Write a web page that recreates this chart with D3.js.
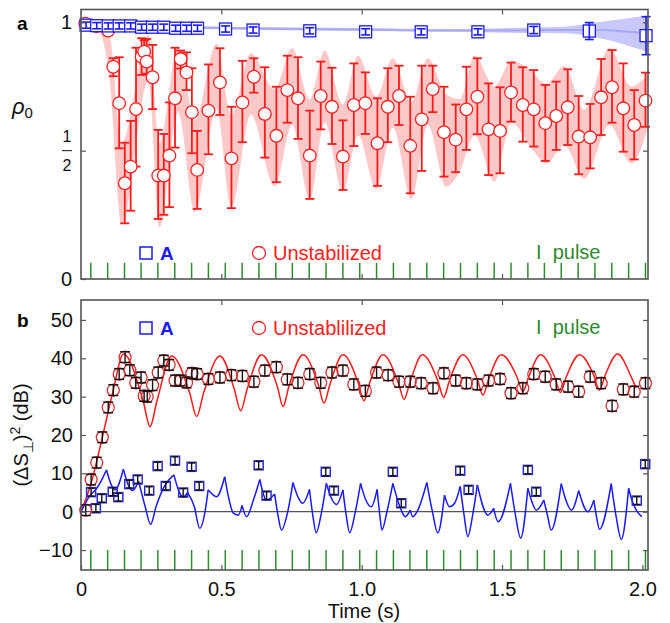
<!DOCTYPE html>
<html>
<head>
<meta charset="utf-8">
<script src="https://cdn.jsdelivr.net/npm/d3@7"></script>
<style>
  body { margin: 0; background: #fff; }
  text { font-family: "Liberation Sans", Arial, sans-serif; }
</style>
</head>
<body>
<div id="chart"></div>
<script>
// ---- panel a : rho_0 ----
const aRedT = [0.015,0.055,0.097,0.115,0.136,0.156,0.177,0.196,0.216,0.225,0.234,0.255,0.275,0.295,0.315,0.335,0.355,0.376,0.395,0.414,0.454,0.495,0.536,0.575,0.616,0.655,0.696,0.735,0.773,0.815,0.854,0.894,0.933,0.972,1.013,1.056,1.093,1.133,1.173,1.214,1.253,1.293,1.335,1.373,1.412,1.452,1.493,1.532,1.574,1.613,1.654,1.693,1.734,1.773,1.814,1.853,1.892,1.932,1.971,2.011];
const aRedV = [0.995,0.985,0.968,0.827,0.685,0.373,0.438,0.662,0.866,0.886,0.847,0.786,0.403,0.403,0.481,0.704,0.857,0.805,0.650,0.425,0.656,0.766,0.470,0.688,0.788,0.643,0.558,0.736,0.704,0.481,0.713,0.671,0.477,0.678,0.685,0.529,0.671,0.713,0.519,0.622,0.740,0.572,0.543,0.661,0.710,0.583,0.577,0.727,0.678,0.661,0.607,0.635,0.669,0.555,0.552,0.708,0.747,0.665,0.600,0.695];
const aRedHi = [1.0,0.995,0.985,0.86,0.864,0.531,0.616,0.901,0.938,0.93,0.935,0.912,0.581,0.565,0.688,0.901,0.89,0.883,0.821,0.577,0.836,0.899,0.671,0.85,0.86,0.825,0.749,0.87,0.864,0.656,0.847,0.823,0.618,0.84,0.805,0.704,0.821,0.831,0.71,0.831,0.831,0.749,0.68,0.827,0.86,0.762,0.747,0.843,0.825,0.814,0.756,0.769,0.817,0.713,0.682,0.857,0.892,0.84,0.736,0.804];
const aRedLo = [0.99,0.975,0.95,0.79,0.509,0.217,0.266,0.438,0.795,0.84,0.80,0.662,0.234,0.25,0.28,0.512,0.82,0.736,0.49,0.273,0.486,0.639,0.276,0.533,0.726,0.473,0.377,0.609,0.546,0.312,0.583,0.526,0.347,0.518,0.565,0.363,0.533,0.6,0.334,0.421,0.65,0.399,0.416,0.503,0.564,0.405,0.412,0.613,0.535,0.516,0.46,0.503,0.522,0.408,0.431,0.561,0.609,0.496,0.466,0.593];

const aRedBandT  = [0.0,0.06,0.10,0.145,0.24,0.28,0.346,0.406,0.483,0.536,0.605,0.69,0.752,0.815,0.868,0.933,0.987,1.052,1.111,1.177,1.236,1.301,1.35,1.402,1.473,1.533,1.604,1.657,1.722,1.793,1.883,1.96,2.02];
const aRedBandLo = [0.995,0.97,0.80,0.21,0.77,0.20,0.65,0.26,0.66,0.28,0.64,0.36,0.60,0.31,0.61,0.34,0.56,0.35,0.59,0.31,0.60,0.36,0.42,0.56,0.38,0.61,0.51,0.45,0.52,0.39,0.60,0.45,0.59];
const aRedBandHi = [1.005,0.995,0.96,0.53,0.95,0.53,0.905,0.62,0.918,0.64,0.88,0.74,0.90,0.70,0.89,0.68,0.87,0.71,0.86,0.69,0.86,0.72,0.70,0.87,0.75,0.85,0.81,0.76,0.83,0.66,0.90,0.75,0.80];

const aBlueT   = [0.018,0.056,0.097,0.136,0.177,0.216,0.255,0.295,0.337,0.376,0.415,0.515,0.613,0.815,1.014,1.212,1.414,1.613,1.811,2.013];
const aBlueV   = [0.989,0.987,0.986,0.986,0.986,0.981,0.981,0.981,0.977,0.977,0.977,0.974,0.970,0.967,0.963,0.963,0.963,0.970,0.966,0.948];
const aBlueErr = [0.012,0.012,0.012,0.012,0.012,0.012,0.012,0.012,0.012,0.012,0.012,0.012,0.012,0.012,0.012,0.012,0.012,0.014,0.033,0.074];

const aBlueBandT  = [0.0,0.4,1.0,1.33,1.6,1.72,1.84,2.02];
const aBlueBandLo = [0.995,0.975,0.966,0.963,0.958,0.957,0.94,0.884];
const aBlueBandHi = [1.002,0.985,0.978,0.974,0.98,0.983,1.0,1.028];
const aBlueFitV   = [0.999,0.98,0.972,0.968,0.969,0.97,0.97,0.956];

// ---- panel b : squeezing (dB) ----
const bRedT = [0.017,0.036,0.056,0.076,0.097,0.115,0.136,0.157,0.174,0.195,0.214,0.225,0.236,0.255,0.275,0.295,0.314,0.335,0.355,0.376,0.395,0.414,0.454,0.495,0.536,0.575,0.616,0.655,0.696,0.735,0.773,0.815,0.854,0.894,0.933,0.972,1.013,1.053,1.094,1.133,1.173,1.212,1.254,1.293,1.335,1.373,1.412,1.452,1.493,1.532,1.574,1.613,1.654,1.693,1.735,1.773,1.814,1.853,1.892,1.932,1.971,2.011];
const bRedV = [0.4,8.4,12.8,19.4,27.2,31.7,35.9,40.3,36.9,33.6,35.0,30.2,30.0,33.0,36.3,39.4,38.3,34.2,34.2,33.7,36.1,35.9,34.6,35.0,35.6,35.4,33.9,36.8,37.7,34.5,33.6,35.9,33.6,36.3,36.8,33.2,31.5,36.3,35.6,33.9,33.9,33.5,32.2,36.1,34.2,33.5,33.2,34.2,34.6,30.9,32.2,35.9,35.2,33.2,32.6,31.3,35.2,33.5,27.6,31.9,31.3,33.5];
const bRedErr = 1.4;

const bBlueT = [0.036,0.053,0.074,0.113,0.133,0.172,0.202,0.243,0.273,0.302,0.335,0.364,0.394,0.421,0.633,0.661,0.872,0.901,1.111,1.141,1.351,1.381,1.592,1.622,1.98,2.01];
const bBlueV = [5.1,0.9,3.5,5.2,3.8,7.2,8.4,5.5,11.9,6.7,13.3,5.0,11.7,6.7,12.1,4.2,10.4,5.5,10.4,2.2,10.7,5.7,10.9,5.2,2.9,12.4];
const bBlueErr = 1.0;

const bRedFitT = [0,0.036,0.076,0.115,0.151,0.221,0.246,0.271,0.323,0.387,0.412,0.437,0.495,0.546,0.569,0.592,0.643,0.70,0.72,0.74,0.791,0.846,0.866,0.886,0.933,0.988,1.008,1.028,1.076,1.131,1.151,1.171,1.216,1.272,1.292,1.312,1.36,1.412,1.432,1.452,1.497,1.554,1.574,1.594,1.637,1.688,1.708,1.728,1.776,1.827,1.847,1.867,1.912,1.958,1.978];
const bRedFitV = [0,7.4,19.4,31.7,41.1,29,22.2,29,40.6,31,24.8,31,40.6,32,26.3,32,40.9,32.5,27.4,32.5,40.9,33,28.3,33,40.9,33.5,28.9,33.5,40.9,33.5,29.3,33.5,40.9,34,29.8,34,40.9,34.5,30.4,34.5,40.9,35,31.3,35,40.9,35,31.1,35,40.9,35.5,31.7,35.5,41.1,35.5,32.2];

const bBlueFitT = [0,0.03,0.06,0.091,0.108,0.121,0.151,0.168,0.184,0.205,0.228,0.248,0.268,0.3,0.331,0.348,0.364,0.38,0.403,0.423,0.443,0.453,0.483,0.512,0.528,0.542,0.56,0.574,0.59,0.614,0.637,0.65,0.661,0.69,0.702,0.714,0.735,0.755,0.772,0.79,0.814,0.826,0.838,0.856,0.874,0.892,0.91,0.933,0.945,0.957,0.976,0.996,1.015,1.034,1.055,1.064,1.072,1.09,1.111,1.141,1.155,1.173,1.182,1.2,1.232,1.252,1.271,1.295,1.313,1.331,1.351,1.365,1.378,1.395,1.412,1.45,1.47,1.486,1.53,1.548,1.566,1.592,1.607,1.622,1.649,1.662,1.675,1.711,1.73,1.747,1.773,1.806,1.827,1.837,1.847,1.889,1.907,1.925,1.951,1.965,1.978,1.998];
const bBlueFitV = [0,4,6.5,10.9,7,5.7,11.1,7,5.5,8,1.5,-3.3,1.5,7,9.6,5.5,3.8,5,1.5,-4.3,0.5,5.7,3.9,9.1,3,-0.3,-0.9,1.6,-1.3,3,8.4,4.5,3.0,4.6,-1,-4.8,-0.5,7.6,4,2.2,5.8,-1,-5.5,-0.5,7.4,3.5,1.9,5.7,-1,-5.5,-0.5,7.4,3,1.3,5.8,-0.5,-4.8,0,7.4,0.4,-1.3,0.4,-1.3,0.4,7.6,0,-5.5,4.3,1.3,2.2,6.6,-1,-6.5,-1,7.0,-0.9,0.9,-2.6,7.4,-1,-6.9,6.1,2.5,0.4,3.0,-1,-4.8,7.3,2.5,0.4,5.5,0,3.0,-1.5,-4.6,7.3,-1.5,-7.2,6.1,2.5,0.4,-1.3];

// pulse times (green marks)
const pulseT = [0.035,0.095,0.155,0.214,0.274,0.334,0.394,0.454,0.514,0.574,0.634,0.694,0.753,0.813,0.873,0.933,0.993,1.053,1.113,1.172,1.232,1.292,1.352,1.412,1.472,1.532,1.592,1.651,1.711,1.771,1.831,1.891,1.951,2.011];

const xTicks = [0, 0.5, 1.0, 1.5, 2.0];
const bTicks = [-10, 0, 10, 20, 30, 40, 50];

// ---- layout ----
const width = 670, height = 623;
const left = 81, right = 648;
const aTop = 9.5, aBot = 279, bTop = 300, bBot = 570;
const frameCol = "#555", green = "#2e8b2e";

const svg = d3.select("#chart").append("svg")
  .attr("width", width).attr("height", height);

const x = d3.scaleLinear().domain([0, 2.02]).range([left, right]);
const ya = d3.scaleLinear().domain([0, 1.05]).range([aBot, aTop]);
const yb = d3.scaleLinear().domain([-15.2, 55.2]).range([bBot, bTop]);

function styleAxis(g) {
  g.select(".domain").remove();
  g.selectAll(".tick line").attr("stroke", frameCol).attr("stroke-width", 1.2);
  g.selectAll(".tick text").attr("font-size", 20).attr("fill", "#111")
    .style("font-family", '"Liberation Sans", Arial, sans-serif');
}

// ================= panel a =================
const ga = svg.append("g");

// pink band
ga.append("path")
  .datum(aRedBandT.map((t, i) => [t, aRedBandLo[i], aRedBandHi[i]]))
  .attr("fill", "#fdc8c8")
  .attr("d", d3.area().x(d => x(d[0])).y0(d => ya(d[1])).y1(d => ya(d[2])).curve(d3.curveMonotoneX));

// blue band
ga.append("path")
  .datum(aBlueBandT.map((t, i) => [t, aBlueBandLo[i], aBlueBandHi[i]]))
  .attr("fill", "#c8c8fa")
  .attr("d", d3.area().x(d => x(d[0])).y0(d => ya(d[1])).y1(d => ya(d[2])).curve(d3.curveMonotoneX));
ga.append("path")
  .datum(aBlueBandT.map((t, i) => [t, aBlueFitV[i]]))
  .attr("fill", "none").attr("stroke", "#a8a8f4").attr("stroke-width", 2)
  .attr("d", d3.line().x(d => x(d[0])).y(d => ya(d[1])).curve(d3.curveMonotoneX));

// red error bars + circles
const aRed = aRedT.map((t, i) => ({t, v: aRedV[i], lo: aRedLo[i], hi: aRedHi[i]}));
const ebA = ga.append("g").attr("stroke", "#ff1a1a").attr("stroke-width", 1.8);
aRed.forEach(d => {
  const cx = x(d.t);
  ebA.append("line").attr("x1", cx).attr("x2", cx).attr("y1", ya(d.lo)).attr("y2", ya(d.hi));
  ebA.append("line").attr("x1", cx - 4.5).attr("x2", cx + 4.5).attr("y1", ya(d.lo)).attr("y2", ya(d.lo));
  ebA.append("line").attr("x1", cx - 4.5).attr("x2", cx + 4.5).attr("y1", ya(d.hi)).attr("y2", ya(d.hi));
});
ga.selectAll("circle.ra").data(aRed).enter().append("circle")
  .attr("cx", d => x(d.t)).attr("cy", d => ya(d.v)).attr("r", 6.3)
  .attr("fill", "#fff").attr("stroke", "#ff2020").attr("stroke-width", 1.3);

// blue squares with error bars
const aBlue = aBlueT.map((t, i) => ({t, v: aBlueV[i], e: aBlueErr[i]}));
ga.selectAll("rect.ba").data(aBlue).enter().append("rect")
  .attr("x", d => x(d.t) - 6).attr("y", d => ya(d.v) - 6)
  .attr("width", 12).attr("height", 12)
  .attr("fill", "#fff").attr("stroke", "#1a1aff").attr("stroke-width", 1.3);
const ebB = ga.append("g").attr("stroke", "#1a1aff").attr("stroke-width", 1.6);
aBlue.forEach(d => {
  const cx = x(d.t);
  ebB.append("line").attr("x1", cx).attr("x2", cx).attr("y1", ya(d.v - d.e)).attr("y2", ya(d.v + d.e));
  ebB.append("line").attr("x1", cx - 4.5).attr("x2", cx + 4.5).attr("y1", ya(d.v - d.e)).attr("y2", ya(d.v - d.e));
  ebB.append("line").attr("x1", cx - 4.5).attr("x2", cx + 4.5).attr("y1", ya(d.v + d.e)).attr("y2", ya(d.v + d.e));
});

// pulses
ga.selectAll("line.pa").data(pulseT).enter().append("line")
  .attr("x1", d => x(d)).attr("x2", d => x(d))
  .attr("y1", ya(0)).attr("y2", ya(0.063))
  .attr("stroke", green).attr("stroke-width", 1.5);

// axes a
ga.append("g").attr("transform", `translate(${left},0)`)
  .call(d3.axisLeft(ya).tickValues([0, 0.5, 1]).tickSize(-5).tickPadding(9)
    .tickFormat(d => d === 0.5 ? "" : d3.format("d")(d)))
  .call(styleAxis);
ga.append("g").attr("transform", `translate(${right},0)`)
  .call(d3.axisRight(ya).tickValues([0.5, 1]).tickSize(-5).tickFormat(""))
  .call(styleAxis);
ga.append("g").attr("transform", `translate(0,${aBot})`)
  .call(d3.axisBottom(x).tickValues([0.5, 1, 1.5]).tickSize(-5).tickFormat(""))
  .call(styleAxis);
ga.append("g").attr("transform", `translate(0,${aTop})`)
  .call(d3.axisTop(x).tickValues([0.5, 1, 1.5]).tickSize(-5).tickFormat(""))
  .call(styleAxis);
// fraction 1/2
const fr = ga.append("g").attr("font-size", 16).attr("text-anchor", "middle").attr("fill", "#111");
fr.append("text").attr("x", 67).attr("y", ya(0.5) - 9).text("1");
fr.append("line").attr("x1", 62).attr("x2", 72).attr("y1", ya(0.5)).attr("y2", ya(0.5))
  .attr("stroke", "#111").attr("stroke-width", 1);
fr.append("text").attr("x", 67).attr("y", ya(0.5) + 20).text("2");

ga.append("rect").attr("x", left).attr("y", aTop).attr("width", right - left).attr("height", aBot - aTop)
  .attr("fill", "none").attr("stroke", frameCol).attr("stroke-width", 1.6);

// labels a
ga.append("text").attr("x", 17).attr("y", 30).attr("font-size", 19).attr("font-weight", "bold").text("a");
const rho = ga.append("text").attr("x", 12).attr("y", 114).attr("font-size", 22).attr("fill", "#111");
rho.append("tspan").attr("font-style", "italic").text("ρ");
rho.append("tspan").attr("font-size", 15).attr("dy", 4).text("0");

// legend a
ga.append("rect").attr("x", 140).attr("y", 247).attr("width", 12).attr("height", 12)
  .attr("fill", "none").attr("stroke", "#1a1aff").attr("stroke-width", 1.5);
ga.append("text").attr("x", 160).attr("y", 260).attr("font-size", 19).attr("font-weight", "bold")
  .attr("fill", "#1a1aff").text("A");
ga.append("circle").attr("cx", 259).attr("cy", 253).attr("r", 6.5)
  .attr("fill", "none").attr("stroke", "#ff2020").attr("stroke-width", 1.3);
ga.append("text").attr("x", 273).attr("y", 260).attr("font-size", 20).attr("fill", "#ff2020").text("Unstabilized");
ga.append("text").attr("x", 536).attr("y", 259).attr("font-size", 20).attr("fill", green)
  .style("white-space", "pre").text("I  pulse");

// ================= panel b =================
const gb = svg.append("g");

// zero line
gb.append("line").attr("x1", left).attr("x2", right).attr("y1", yb(0)).attr("y2", yb(0))
  .attr("stroke", "#555").attr("stroke-width", 1.3);

// theory curves
gb.append("path")
  .datum(bRedFitT.map((t, i) => [t, bRedFitV[i]]))
  .attr("fill", "none").attr("stroke", "#ff1a1a").attr("stroke-width", 1.5)
  .attr("d", d3.line().x(d => x(d[0])).y(d => yb(d[1])).curve(d3.curveMonotoneX));

// blue theory: smooth between peaks, pointed at each peak
const blueFit = bBlueFitT.map((t, i) => [t, bBlueFitV[i]]);
const cuts = [0];
for (let i = 1; i < blueFit.length - 1; i++) {
  if (blueFit[i][1] > blueFit[i - 1][1] && blueFit[i][1] > blueFit[i + 1][1]) cuts.push(i);
}
cuts.push(blueFit.length - 1);
const blueLine = d3.line().x(d => x(d[0])).y(d => yb(d[1])).curve(d3.curveMonotoneX);
const gBlue = gb.append("g").attr("fill", "none").attr("stroke", "#1a1aff").attr("stroke-width", 1.5);
for (let k = 0; k < cuts.length - 1; k++) {
  gBlue.append("path").attr("d", blueLine(blueFit.slice(cuts[k], cuts[k + 1] + 1)));
}

// pulses b
gb.selectAll("line.pb").data(pulseT).enter().append("line")
  .attr("x1", d => x(d)).attr("x2", d => x(d))
  .attr("y1", yb(-15.2)).attr("y2", yb(-10))
  .attr("stroke", green).attr("stroke-width", 1.5);

// blue squares
const bBlue = bBlueT.map((t, i) => ({t, v: bBlueV[i]}));
gb.selectAll("rect.bb").data(bBlue).enter().append("rect")
  .attr("x", d => x(d.t) - 4.5).attr("y", d => yb(d.v) - 4.5)
  .attr("width", 9).attr("height", 9)
  .attr("fill", "none").attr("stroke", "#2a2acc").attr("stroke-width", 1.5);
// red circles
const bRed = bRedT.map((t, i) => ({t, v: bRedV[i]}));
gb.selectAll("circle.rb").data(bRed).enter().append("circle")
  .attr("cx", d => x(d.t)).attr("cy", d => yb(d.v)).attr("r", 6)
  .attr("fill", "none").attr("stroke", "#cc3333").attr("stroke-width", 1.3);

// black error bars
const ebK = gb.append("g").attr("stroke", "#111").attr("stroke-width", 1.4);
function errBar(t, v, e, w) {
  const cx = x(t);
  ebK.append("line").attr("x1", cx).attr("x2", cx).attr("y1", yb(v - e)).attr("y2", yb(v + e));
  ebK.append("line").attr("x1", cx - w).attr("x2", cx + w).attr("y1", yb(v - e)).attr("y2", yb(v - e));
  ebK.append("line").attr("x1", cx - w).attr("x2", cx + w).attr("y1", yb(v + e)).attr("y2", yb(v + e));
}
bRed.forEach(d => errBar(d.t, d.v, bRedErr, 5));
bBlue.forEach(d => errBar(d.t, d.v, bBlueErr, 3.5));

// axes b
gb.append("g").attr("transform", `translate(${left},0)`)
  .call(d3.axisLeft(yb).tickValues(bTicks).tickSize(-5).tickPadding(8))
  .call(styleAxis);
gb.append("g").attr("transform", `translate(${right},0)`)
  .call(d3.axisRight(yb).tickValues(bTicks).tickSize(-5).tickFormat(""))
  .call(styleAxis);
gb.append("g").attr("transform", `translate(0,${bBot})`)
  .call(d3.axisBottom(x).tickValues(xTicks).tickSize(-5).tickPadding(12)
    .tickFormat(d => d === 0 ? "0" : d3.format(".1f")(d)))
  .call(styleAxis);
gb.append("g").attr("transform", `translate(0,${bTop})`)
  .call(d3.axisTop(x).tickValues([0.5, 1, 1.5]).tickSize(-5).tickFormat(""))
  .call(styleAxis);

gb.append("rect").attr("x", left).attr("y", bTop).attr("width", right - left).attr("height", bBot - bTop)
  .attr("fill", "none").attr("stroke", frameCol).attr("stroke-width", 1.6);

// labels b
gb.append("text").attr("x", 17).attr("y", 327).attr("font-size", 19).attr("font-weight", "bold").text("b");
gb.append("text").attr("x", 364).attr("y", 618).attr("font-size", 20).attr("text-anchor", "middle")
  .attr("fill", "#111").text("Time (s)");
const yl = gb.append("text").attr("transform", `translate(28,${(bTop + bBot) / 2}) rotate(-90)`)
  .attr("font-size", 20).attr("text-anchor", "middle").attr("fill", "#111");
yl.append("tspan").text("(ΔS");
yl.append("tspan").attr("font-size", 14).attr("dy", 5).text("⊥");
yl.append("tspan").attr("dy", -5).text(")");
yl.append("tspan").attr("font-size", 14).attr("dy", -8).text("2");
yl.append("tspan").attr("dy", 8).text(" (dB)");

// legend b
gb.append("rect").attr("x", 140).attr("y", 322).attr("width", 12).attr("height", 12)
  .attr("fill", "none").attr("stroke", "#1a1aff").attr("stroke-width", 1.5);
gb.append("text").attr("x", 160).attr("y", 335).attr("font-size", 19).attr("font-weight", "bold")
  .attr("fill", "#1a1aff").text("A");
gb.append("circle").attr("cx", 259).attr("cy", 328).attr("r", 6.5)
  .attr("fill", "none").attr("stroke", "#ff2020").attr("stroke-width", 1.3);
gb.append("text").attr("x", 273).attr("y", 335).attr("font-size", 20).attr("fill", "#ff2020").text("Unstablilized");
gb.append("text").attr("x", 536).attr("y", 334).attr("font-size", 20).attr("fill", green)
  .style("white-space", "pre").text("I  pulse");
</script>
</body>
</html>
